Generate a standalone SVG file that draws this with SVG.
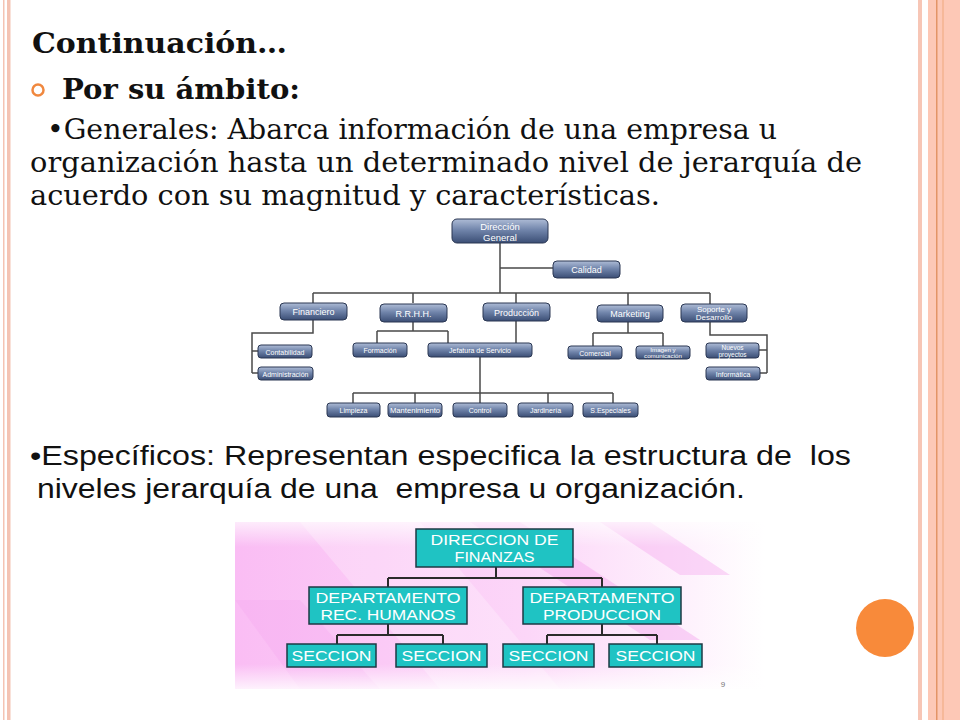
<svg xmlns="http://www.w3.org/2000/svg" width="960" height="720" viewBox="0 0 960 720">
<defs>
<linearGradient id="blueBox" x1="0" y1="0" x2="0" y2="1">
<stop offset="0" stop-color="#aebcd6"/>
<stop offset="0.45" stop-color="#7185ab"/>
<stop offset="1" stop-color="#3b4e75"/>
</linearGradient>
<linearGradient id="pinkBg" x1="0" y1="0" x2="1" y2="0">
<stop offset="0" stop-color="#fabdf4"/>
<stop offset="0.55" stop-color="#fcd6f8"/>
<stop offset="1" stop-color="#ffffff"/>
</linearGradient>
<linearGradient id="pinkFadeV" x1="0" y1="0" x2="0" y2="1">
<stop offset="0" stop-color="#ffffff" stop-opacity="0.7"/>
<stop offset="0.15" stop-color="#ffffff" stop-opacity="0"/>
<stop offset="0.85" stop-color="#ffffff" stop-opacity="0"/>
<stop offset="1" stop-color="#ffffff" stop-opacity="0.8"/>
</linearGradient>
</defs>
<style>
.serif{font-family:"DejaVu Serif","Liberation Serif",serif;fill:#111}
.sans{font-family:"Liberation Sans",Arial,sans-serif;fill:#111;white-space:pre}
.bb{fill:url(#blueBox);stroke:#2a3753;stroke-width:1}
.bt{font-family:"Liberation Sans",Arial,sans-serif;fill:#ffffff;text-anchor:middle}
.tb{fill:#1fc3c3;stroke:#1e3a44;stroke-width:1.5}
.tt{font-family:"Liberation Sans",Arial,sans-serif;fill:#ffffff;text-anchor:middle;font-size:15px}
.ln{fill:none;stroke:#4a4a4a;stroke-width:1.5}
.ln2{fill:none;stroke:#2b2b2b;stroke-width:2}
</style>

<!-- page background and borders -->
<rect x="0" y="0" width="960" height="720" fill="#ffffff"/>
<rect x="3" y="0" width="1.5" height="720" fill="#f4c3b3"/>
<rect x="7" y="0" width="3.5" height="720" fill="#f4c3b3"/>
<rect x="918" y="0" width="4" height="720" fill="#f7c6b6"/>
<rect x="928" y="0" width="32" height="720" fill="#fdc8b6"/>
<rect x="936" y="0" width="1.5" height="720" fill="#e39466"/>
<rect x="942" y="0" width="2" height="720" fill="#f6b899"/>
<circle cx="885" cy="628" r="29" fill="#f88a3a"/>

<!-- text -->
<text class="serif" x="32" y="53" font-size="27" font-weight="bold" textLength="255" lengthAdjust="spacingAndGlyphs">Continuación…</text>
<circle cx="38" cy="90" r="5.5" fill="none" stroke="#f0883f" stroke-width="2.5"/>
<text class="serif" x="62" y="99" font-size="27" font-weight="bold" textLength="238" lengthAdjust="spacingAndGlyphs">Por su ámbito:</text>
<text class="serif" x="47" y="139" font-size="27" textLength="730" lengthAdjust="spacingAndGlyphs">•Generales: Abarca información de una empresa u</text>
<text class="serif" x="30" y="172" font-size="27" textLength="832" lengthAdjust="spacingAndGlyphs">organización hasta un determinado nivel de jerarquía de</text>
<text class="serif" x="30" y="205" font-size="27" textLength="630" lengthAdjust="spacingAndGlyphs">acuerdo con su magnitud y características.</text>
<text class="sans" x="30" y="465" font-size="27" textLength="821" lengthAdjust="spacingAndGlyphs" xml:space="preserve">•Específicos: Representan especifica la estructura de  los</text>
<text class="sans" x="37" y="498" font-size="27" textLength="708" lengthAdjust="spacingAndGlyphs" xml:space="preserve">niveles jerarquía de una  empresa u organización.</text>

<!-- bottom chart background -->
<g id="pink-background">
<rect x="235" y="522" width="530" height="167" fill="url(#pinkBg)"/>
<polygon points="300,522 420,522 560,689 440,689" fill="#ffffff" opacity="0.25"/>
<polygon points="470,522 520,522 700,640 650,640" fill="#f4a6ee" opacity="0.45"/>
<polygon points="600,522 650,522 730,575 680,575" fill="#f4a6ee" opacity="0.4"/>
<polygon points="235,600 300,600 380,689 300,689" fill="#f4a6ee" opacity="0.3"/>
<rect x="235" y="522" width="530" height="167" fill="url(#pinkFadeV)"/>
</g>

<!-- connectors -->
<g id="connectors">
<path class="ln" d="M500 243 V293 M500 268 H553 M313 293 H710 M313 293 V303 M413 293 V303 M516 293 V303 M628 293 V305 M710 293 V304"/>
<path class="ln" d="M313 320 V333 H252 V373 M252 351 H258 M252 373 H258"/>
<path class="ln" d="M413 322 V331 M377 331 H448 M377 331 V343 M448 331 V343 M516 321 V343"/>
<path class="ln" d="M480 357 V393 M353 393 H613 M353 393 V403 M415 393 V403 M480 393 V403 M548 393 V403 M613 393 V403"/>
<path class="ln" d="M628 322 V333 M593 333 H663 M593 333 V346 M663 333 V346"/>
<path class="ln" d="M710 322 V335 H767 V373 M767 350 H759 M767 373 H760"/>
<path class="ln2" d="M496 567 V578 M388 578 H602 M388 578 V587 M602 578 V587 M388 624 V635 M337 635 H443 M337 635 V644 M443 635 V644 M602 624 V635 M547 635 H657 M547 635 V644 M657 635 V644"/>
</g>

<!-- top chart nodes -->
<g id="direccion-general"><rect class="bb" x="452" y="219" width="96" height="24" rx="5"/><text class="bt" x="500" y="229.5" font-size="9.5">Dirección</text><text class="bt" x="500" y="240.5" font-size="9.5">General</text></g>
<g id="calidad"><rect class="bb" x="553" y="261" width="67" height="17" rx="4"/><text class="bt" x="586.5" y="273" font-size="9">Calidad</text></g>
<g id="financiero"><rect class="bb" x="280" y="303" width="67" height="17" rx="4"/><text class="bt" x="313.5" y="315" font-size="9">Financiero</text></g>
<g id="rrhh"><rect class="bb" x="380" y="304" width="67" height="18" rx="4"/><text class="bt" x="413.5" y="316.5" font-size="9">R.R.H.H.</text></g>
<g id="produccion"><rect class="bb" x="483" y="303" width="67" height="18" rx="4"/><text class="bt" x="516.5" y="315.5" font-size="9">Producción</text></g>
<g id="marketing"><rect class="bb" x="597" y="305" width="66" height="17" rx="4"/><text class="bt" x="630" y="317" font-size="9">Marketing</text></g>
<g id="soporte"><rect class="bb" x="681" y="304" width="66" height="18" rx="4"/><text class="bt" x="714" y="312" font-size="8">Soporte y</text><text class="bt" x="714" y="320" font-size="8">Desarrollo</text></g>
<g id="contabilidad"><rect class="bb" x="258" y="345" width="54" height="13" rx="3"/><text class="bt" x="285" y="354.5" font-size="7">Contabilidad</text></g>
<g id="administracion"><rect class="bb" x="258" y="367" width="55" height="13" rx="3"/><text class="bt" x="285.5" y="376.5" font-size="7">Administración</text></g>
<g id="formacion"><rect class="bb" x="353" y="343" width="54" height="14" rx="3"/><text class="bt" x="380" y="352.5" font-size="7">Formación</text></g>
<g id="jefatura"><rect class="bb" x="428" y="343" width="104" height="14" rx="3"/><text class="bt" x="480" y="352.5" font-size="7">Jefatura de Servicio</text></g>
<g id="comercial"><rect class="bb" x="568" y="346" width="54" height="13" rx="3"/><text class="bt" x="595" y="355.5" font-size="7">Comercial</text></g>
<g id="imagen"><rect class="bb" x="636" y="346" width="54" height="13" rx="3"/><text class="bt" x="663" y="352" font-size="6.2">Imagen y</text><text class="bt" x="663" y="358" font-size="6.2">comunicación</text></g>
<g id="nuevos-proyectos"><rect class="bb" x="706" y="343" width="53" height="15" rx="3"/><text class="bt" x="732.5" y="349.5" font-size="6.5">Nuevos</text><text class="bt" x="732.5" y="356.5" font-size="6.5">proyectos</text></g>
<g id="informatica"><rect class="bb" x="706" y="367" width="54" height="13" rx="3"/><text class="bt" x="733" y="376.5" font-size="7">Informática</text></g>
<g id="limpieza"><rect class="bb" x="327" y="403" width="53" height="14" rx="3"/><text class="bt" x="353.5" y="412.5" font-size="7">Limpieza</text></g>
<g id="mantenimiento"><rect class="bb" x="388" y="403" width="54" height="14" rx="3"/><text class="bt" x="415" y="412.5" font-size="7" textLength="50" lengthAdjust="spacingAndGlyphs">Mantenimiento</text></g>
<g id="control"><rect class="bb" x="453" y="403" width="54" height="14" rx="3"/><text class="bt" x="480" y="412.5" font-size="7">Control</text></g>
<g id="jardineria"><rect class="bb" x="518" y="403" width="55" height="14" rx="3"/><text class="bt" x="545.5" y="412.5" font-size="7">Jardinería</text></g>
<g id="s-especiales"><rect class="bb" x="583" y="403" width="55" height="14" rx="3"/><text class="bt" x="610.5" y="412.5" font-size="7">S.Especiales</text></g>

<!-- bottom chart nodes -->
<g id="direccion-finanzas"><rect class="tb" x="416" y="529" width="157" height="38"/><text class="tt" x="494.5" y="545" textLength="128" lengthAdjust="spacingAndGlyphs">DIRECCION DE</text><text class="tt" x="494.5" y="562" textLength="80" lengthAdjust="spacingAndGlyphs">FINANZAS</text></g>
<g id="dep-rec-humanos"><rect class="tb" x="309" y="587" width="158" height="37"/><text class="tt" x="388" y="603" textLength="145" lengthAdjust="spacingAndGlyphs">DEPARTAMENTO</text><text class="tt" x="388" y="620" textLength="135" lengthAdjust="spacingAndGlyphs">REC. HUMANOS</text></g>
<g id="dep-produccion"><rect class="tb" x="523" y="587" width="158" height="37"/><text class="tt" x="602" y="603" textLength="145" lengthAdjust="spacingAndGlyphs">DEPARTAMENTO</text><text class="tt" x="602" y="620" textLength="118" lengthAdjust="spacingAndGlyphs">PRODUCCION</text></g>
<g id="seccion-1"><rect class="tb" x="287" y="644" width="89" height="23"/><text class="tt" x="331.5" y="661" textLength="80" lengthAdjust="spacingAndGlyphs">SECCION</text></g>
<g id="seccion-2"><rect class="tb" x="396" y="644" width="91" height="23"/><text class="tt" x="441.5" y="661" textLength="80" lengthAdjust="spacingAndGlyphs">SECCION</text></g>
<g id="seccion-3"><rect class="tb" x="503" y="644" width="91" height="23"/><text class="tt" x="548.5" y="661" textLength="80" lengthAdjust="spacingAndGlyphs">SECCION</text></g>
<g id="seccion-4"><rect class="tb" x="609" y="644" width="93" height="23"/><text class="tt" x="655.5" y="661" textLength="80" lengthAdjust="spacingAndGlyphs">SECCION</text></g>
<text x="723" y="687" font-family="Liberation Sans, Arial, sans-serif" font-size="8" fill="#777" text-anchor="middle">9</text>
</svg>
